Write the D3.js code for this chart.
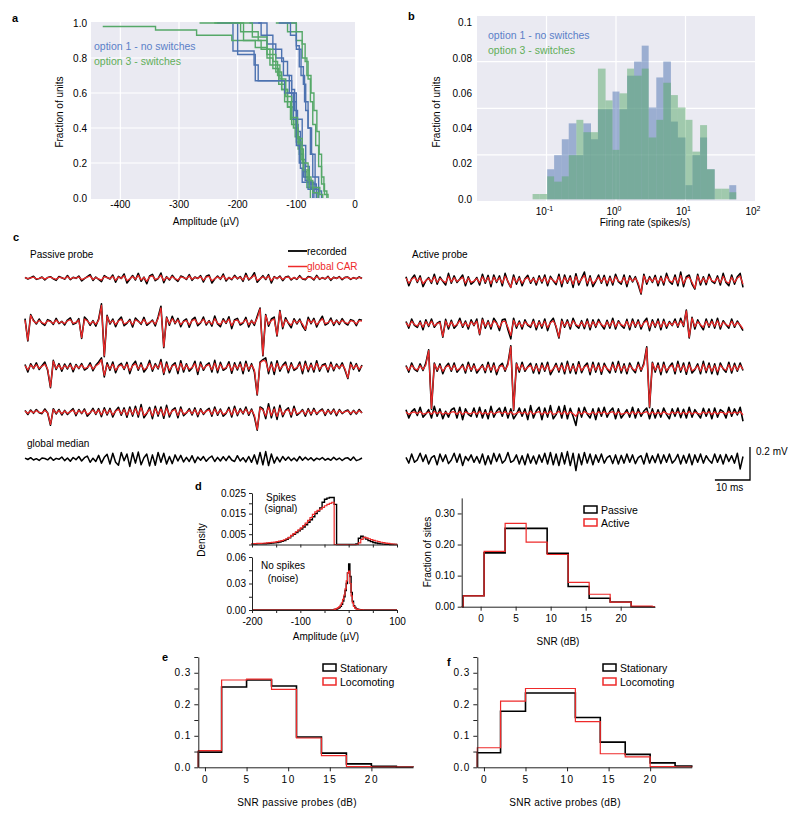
<!DOCTYPE html>
<html>
<head>
<meta charset="utf-8">
<script src="https://cdn.jsdelivr.net/npm/d3@7/dist/d3.min.js"></script>
<style>
  body { margin: 0; background: #fff; }
  svg { font-family: "Liberation Sans", Arial, sans-serif; }
</style>
</head>
<body>
<svg id="fig" width="800" height="817"></svg>
<script>
// ---------- panel a: cumulative amplitude curves [amplitude (uV), fraction] ----------
const ampTicks = [-400, -300, -200, -100, 0];
const fracTicks = [0, 0.2, 0.4, 0.6, 0.8, 1.0];
const blueCurves = [
  [[-215,1],[-208,0.84],[-172,0.76],[-165,0.67],[-108,0.55],[-100,0.42],[-97,0.3],[-93,0.17],[-90,0.09],[-70,0.03],[-62,0]],
  [[-180,1],[-160,0.93],[-140,0.85],[-125,0.78],[-115,0.7],[-108,0.62],[-103,0.5],[-98,0.38],[-93,0.25],[-88,0.12],[-80,0.05],[-72,0]],
  [[-165,1],[-150,0.88],[-135,0.8],[-122,0.7],[-112,0.6],[-100,0.45],[-90,0.3],[-84,0.18],[-78,0.08],[-66,0]],
  [[-110,1],[-100,0.87],[-95,0.75],[-88,0.65],[-84,0.5],[-80,0.4],[-76,0.25],[-72,0.12],[-68,0.05],[-62,0]],
  [[-130,1],[-110,0.93],[-100,0.85],[-92,0.7],[-86,0.55],[-80,0.4],[-74,0.25],[-68,0.12],[-62,0.04],[-57,0]],
  [[-235,1],[-200,0.82],[-170,0.67],[-150,0.67],[-120,0.6],[-105,0.45],[-100,0.3],[-95,0.2],[-85,0.1],[-75,0.05],[-70,0]]
];
const greenCurves = [
  [[-430,0.98],[-340,0.96],[-270,0.93],[-210,0.9],[-170,0.86],[-150,0.8],[-140,0.74],[-130,0.65],[-120,0.55],[-110,0.45],[-102,0.35],[-95,0.25],[-88,0.15],[-82,0.06],[-76,0]],
  [[-265,1],[-195,0.95],[-165,0.9],[-150,0.85],[-140,0.78],[-132,0.7],[-125,0.62],[-115,0.52],[-108,0.42],[-100,0.32],[-92,0.22],[-85,0.12],[-75,0.05],[-65,0]],
  [[-135,1],[-115,0.95],[-100,0.9],[-90,0.8],[-82,0.7],[-75,0.6],[-70,0.5],[-65,0.38],[-61,0.25],[-57,0.12],[-53,0.04],[-48,0]],
  [[-115,1],[-100,0.95],[-90,0.88],[-85,0.78],[-80,0.68],[-76,0.55],[-72,0.42],[-67,0.3],[-62,0.18],[-57,0.08],[-52,0.02],[-46,0]],
  [[-215,1],[-175,0.92],[-150,0.82],[-135,0.72],[-125,0.62],[-115,0.52],[-105,0.4],[-97,0.28],[-88,0.16],[-78,0.06],[-60,0.02],[-55,0]],
  [[-240,1],[-190,0.9],[-160,0.85],[-145,0.76],[-128,0.68],[-118,0.58],[-108,0.46],[-98,0.34],[-90,0.2],[-80,0.1],[-72,0.03],[-63,0]]
];

// ---------- panel b: firing-rate histograms (log10 bin edges) ----------
const rateBinExp = [-1.2,-1.1,-0.99,-0.89,-0.78,-0.68,-0.57,-0.47,-0.36,-0.26,-0.15,-0.05,0.05,0.16,0.26,0.37,0.47,0.58,0.68,0.79,0.89,1.0,1.1,1.21,1.31,1.42,1.52,1.63,1.73];
const rateBlue  = [0,0,0.017,0.025,0.034,0.043,0.025,0.043,0.034,0.051,0.051,0.061,0.051,0.070,0.078,0.087,0.052,0.069,0.078,0.044,0.035,0.008,0.025,0.035,0.017,0,0,0.008];
const rateGreen = [0.003,0.003,0.013,0.010,0.013,0.025,0.045,0.038,0.038,0.074,0.056,0.028,0.060,0.074,0.070,0.074,0.035,0.045,0.066,0.059,0.052,0.045,0.027,0.042,0.017,0.006,0.006,0.004];
const rateTickVals = [0, 0.02, 0.04, 0.06, 0.08, 0.1];
const rateTickLabels = ["0.0", "0.02", "0.04", "0.06", "0.08", "0.1"];
const rateGrid = [0.0251, 0.0515, 0.078];
const rateDecades = [-1, 0, 1, 2];

// ---------- panel c: traces in uV, 120 samples over ~96 ms ----------
const P1k = [4,-6,2,10,-8,-3,6,-12,3,8, -5,-14,9,2,-7,15,-10,4,-2,12, -18,-4,8,20,-15,6,-9,-22,14,3, -6,18,-25,10,-3,24,-30,-8,15,-12,
  28,-20,5,-35,12,22,-16,-4,30,-28, 8,-12,16,-6,-20,12,4,-9,20,-14, 6,-3,14,-24,10,18,-30,-6,12,-8, 24,-18,3,-10,16,-5,9,-20,28,-12,
  4,32,-26,-6,14,-9,20,-30,8,-4, 12,-16,6,10,-12,3,-8,14,-6,-10, 9,4,-12,16,-8,2,-6,10,-14,5, -3,8,-10,4,6,-8,2,-5,7,-3];
const P1r = [2,-4,1,6,-5,-2,4,-7,2,5, -3,-8,5,1,-4,9,-6,2,-1,7, -10,-2,5,12,-9,3,-5,-13,8,2, -4,10,-14,6,-2,14,-17,-5,9,-7,
  16,-12,3,-20,7,13,-9,-2,17,-16, 5,-7,9,-4,-12,7,2,-5,12,-8, 4,-2,8,-14,6,10,-17,-4,7,-5, 14,-10,2,-6,9,-3,5,-12,16,-7,
  2,18,-15,-4,8,-5,12,-17,5,-2, 7,-9,4,6,-7,2,-5,8,-4,-6, 5,2,-7,9,-5,1,-4,6,-8,3, -2,5,-6,2,4,-5,1,-3,4,-2];
const P2k = [20,-115,45,10,-12,18,-8,-20,14,6, -15,22,-10,4,-18,12,25,-14,-6,20, -100,30,12,-20,8,-25,18,110,-210,40, -12,18,-28,10,30,-22,-8,16,-30,24,
  6,-14,28,-20,-5,12,-24,30,95,-155, 30,-20,35,-10,22,-28,6,18,-32,14, 28,-22,-6,30,-18,8,-25,36,-12,-28, 20,-8,32,-40,14,22,-18,-6,28,-30,
  10,-20,35,85,-205,45,-25,18,30,-85, 70,-40,26,-8,-35,20,-12,18,-24,-50, 28,-10,22,-30,6,35,-18,-8,24,-20, 12,-15,20,-6,-18,14,8,-22,15,10];
const P2r = [12,-110,40,5,-7,10,-4,-12,8,3, -9,12,-6,2,-10,7,14,-8,-3,12, -95,18,7,-12,4,-14,10,100,-205,35, -7,10,-16,6,17,-12,-4,9,-17,14,
  3,-8,16,-11,-3,7,-13,20,85,-150, 25,-11,20,-6,12,-16,3,10,-18,8, 16,-12,-3,17,-10,4,-14,20,-7,-16, 11,-4,18,-22,8,12,-10,-3,16,-17,
  6,-11,22,80,-200,40,-15,10,18,-80, 65,-30,15,-4,-20,11,-7,10,-13,-45, 16,-5,12,-17,3,20,-10,-4,13,-11, 7,-8,11,-3,-10,8,4,-12,8,5];
const P3k = [15,-30,20,-10,25,-15,8,30,-20,-125, 40,-15,20,-25,18,-12,22,-28,15,-10, 20,-18,-6,25,-22,10,30,55,-60,25, -20,30,-35,8,22,-15,28,-40,12,35,
  -20,25,-30,-8,40,-25,20,-12,45,-45, 30,-35,10,25,-40,38,-30,20,-25,-6, 35,-45,30,-20,12,25,-30,40,-35,28, -20,-8,32,-38,25,-18,30,-40,35,-25,
  20,-30,-170,30,45,55,-40,30,-45,38, -25,10,30,-35,25,-20,-8,30,-40,35, -28,22,-30,38,-25,12,20,-30,28,-22, 18,-10,25,-20,-70,28,-15,20,-25,12];
const P3r = [8,-18,12,-6,14,-9,4,17,-12,-120, 35,-9,12,-14,10,-7,13,-16,9,-6, 12,-10,-3,14,-13,6,18,45,-50,15, -12,17,-20,4,13,-9,16,-23,7,20,
  -12,14,-17,-4,23,-14,12,-7,30,-35, 18,-20,6,14,-23,22,-17,12,-14,-3, 20,-26,17,-12,7,14,-17,23,-20,16, -12,-4,18,-22,14,-10,17,-23,20,-14,
  12,-17,-165,25,40,35,-25,17,-26,22, -14,6,17,-20,14,-12,-4,17,-23,20, -16,13,-17,22,-14,7,12,-17,16,-13, 10,-6,14,-12,-65,16,-9,12,-14,7];
const P4k = [10,-15,12,-8,15,-4,-10,18,-6,-80, 20,-12,15,-18,10,-15,4,20,-22,15, -10,18,-25,-6,22,-15,20,-28,25,-18, 22,-30,8,28,-20,25,-32,30,-25,35,
  -30,45,-35,-10,28,-40,35,-25,30,-38, 40,-30,12,25,-35,30,-22,-6,20,-18, 25,-28,20,-15,8,22,-25,30,-20,18, -25,-8,28,-30,35,-22,20,-12,30,-20,
  18,-30,-110,30,20,-40,50,-35,30,-45, 40,-28,10,25,-30,35,-20,-6,15,-25, 20,-18,22,-15,6,18,-20,15,-12,18, -22,15,-10,4,12,-15,10,-12,15,-6];
const P4r = [6,-9,7,-5,9,-2,-6,11,-4,-75, 15,-7,9,-11,6,-9,2,12,-13,9, -6,11,-15,-4,13,-9,12,-17,15,-11, 13,-18,5,17,-12,15,-19,18,-15,21,
  -18,27,-21,-6,17,-24,21,-15,18,-23, 24,-18,7,15,-21,18,-13,-4,12,-11, 15,-17,12,-9,5,13,-15,18,-12,11, -15,-5,17,-18,21,-13,12,-7,18,-12,
  11,-18,-105,25,12,-24,30,-21,18,-27, 24,-17,6,15,-18,21,-12,-4,9,-15, 12,-11,13,-9,4,11,-12,9,-7,11, -13,9,-6,2,7,-9,6,-7,9,-4];
const Pmed = [5,-3,8,-6,2,-9,6,3,-5,10, -8,4,-2,12,-10,6,-14,9,-4,15, -12,8,18,-20,5,-15,22,-25,10,28, -30,35,-20,-38,40,-10,30,-45,38,-25,
  42,-35,8,30,-42,25,-38,40,-20,35, -30,15,-28,25,-12,22,-18,10,-15,20, -22,12,-8,15,-14,6,18,-15,10,-12, 14,-10,18,-6,-15,20,-12,8,-18,15,
  -20,25,-30,40,-35,45,-40,30,-25,12, -18,15,-8,12,-10,6,-12,15,-8,10, -6,8,-10,5,-4,9,-7,3,-8,10, -5,6,-9,4,7,-8,12,-10,-4,6];
const A1k = [20,-35,8,30,-15,25,-40,-5,15,-20, 35,-25,18,-8,-30,40,-20,25,-15,6, 30,-35,20,-25,-10,15,-30,35,-20,28, -40,30,-15,25,-35,40,-12,-45,30,-25,
  20,-35,8,28,-20,15,-30,25,-18,30, -35,22,-5,-28,35,-40,30,-20,25,-45, 38,-30,10,48,-35,25,-40,-8,30,-20, 28,-35,22,-30,35,-10,-25,30,-40,25,
  -12,20,-30,-85,35,-25,20,-15,28,-35, 22,-30,40,-8,-25,30,-35,48,-40,20, 30,-25,-55,35,-30,20,-28,35,-8,-20, 25,-30,40,-15,-35,30,-25,20,40,-45];
const A1r = [12,-20,4,17,-9,14,-23,-3,9,-12, 20,-14,10,-4,-17,23,-12,14,-9,3, 17,-20,12,-14,-6,9,-17,20,-12,16, -23,17,-9,14,-20,23,-7,-45,17,-14,
  12,-20,4,16,-12,9,-17,14,-10,17, -20,13,-3,-16,20,-23,17,-12,14,-26, 22,-17,6,28,-20,14,-23,-4,17,-12, 16,-20,13,-17,20,-6,-14,17,-23,14,
  -7,12,-17,-80,25,-14,12,-9,16,-20, 13,-17,23,-4,-14,17,-20,28,-23,12, 17,-14,-50,25,-17,12,-16,20,-4,-12, 14,-17,23,-9,-20,17,-14,12,23,-26];
const A2k = [15,-25,30,-8,-20,18,-35,25,-15,30, -20,5,15,-80,28,-30,22,-25,-6,35, -20,18,-30,25,-10,30,-65,35,-25,20, -30,35,8,-40,25,30,-35,-90,35,-25,
  18,-30,25,-8,-20,28,-35,20,-25,30, -40,12,35,-20,-85,28,-20,25,-30,35, -8,-25,20,-28,30,-35,25,-20,28,-6, -30,22,-25,35,-30,20,-8,-25,28,-35,
  30,-20,25,-30,12,35,-40,25,-20,30, -35,28,-25,15,-10,30,-20,35,-15,85, -85,40,-30,25,-8,-35,30,-20,28,-25, 35,-30,20,-5,-25,30,-20,18,-10,-40];
const A2r = [9,-14,17,-4,-12,10,-20,14,-9,17, -12,3,9,-75,18,-17,13,-14,-3,20, -12,10,-17,14,-6,17,-60,25,-14,12, -17,20,4,-23,14,17,-20,-70,22,-14,
  10,-17,14,-4,-12,16,-20,12,-14,17, -23,7,20,-12,-80,18,-12,14,-17,20, -4,-14,12,-16,17,-20,14,-12,16,-3, -17,13,-14,20,-17,12,-4,-14,16,-20,
  17,-12,14,-17,7,20,-23,14,-12,17, -20,16,-14,9,-6,17,-12,20,-9,80, -80,35,-17,14,-4,-20,17,-12,16,-14, 20,-17,12,-3,-14,17,-12,10,-6,-30];
const A3k = [15,-25,30,-8,-20,25,-15,30,110,-250, 30,-20,25,-35,8,28,-20,30,-25,-5, 22,-30,35,-20,25,-30,-6,20,-28,35, -25,30,-40,12,28,-20,30,135,-258,30,
  -25,35,-20,8,28,-30,25,-35,30,-20, 35,-40,-8,28,-25,30,-35,40,-30,25, -35,38,-28,10,30,-40,35,-25,30,-38, 28,-6,-30,35,-25,40,-30,25,-35,30,
  -8,-28,35,-20,30,128,-240,35,-25,30, -40,35,-28,8,30,-35,40,-25,30,-38, 35,-30,-10,25,-35,40,-28,30,-35,25, -40,30,-6,-25,35,-30,28,-20,30,-15];
const A3r = [9,-14,17,-4,-12,14,-9,17,105,-245, 25,-12,14,-20,4,16,-12,17,-14,-3, 12,-17,20,-12,14,-17,-3,12,-16,20, -14,17,-23,7,16,-12,17,130,-252,25,
  -14,20,-12,4,16,-17,14,-20,17,-12, 20,-23,-4,16,-14,17,-20,23,-17,14, -20,22,-16,6,17,-23,20,-14,17,-22, 16,-3,-17,20,-14,23,-17,14,-20,17,
  -4,-16,20,-12,17,122,-235,30,-14,17, -23,20,-16,4,17,-20,23,-14,17,-22, 20,-17,-6,14,-20,23,-16,17,-20,14, -23,17,-3,-14,20,-17,16,-12,17,-8];
const A4k = [20,-30,8,25,-15,35,-25,-6,20,-30, 40,-20,25,-35,10,-25,20,30,-30,35, -40,25,-8,-20,30,-25,35,-30,20,-35, 40,-25,10,30,-20,35,-30,25,-35,-8,
  30,-20,25,-40,45,-30,12,35,-40,30, -25,45,-35,-10,40,-30,45,-35,28,-20, -75,30,-25,35,-8,-30,25,-40,30,-20, 35,-25,10,30,-35,25,-30,-6,20,-25,
  35,-30,25,-20,12,30,-35,25,-30,20, -25,30,-8,-35,25,-20,30,-28,22,-30, 35,-25,20,-6,-30,28,-20,25,-35,30, -25,20,8,-30,35,-20,25,-12,35,-50];
const A4r = [6,-8,2,7,-4,9,-7,-2,6,-8, 10,-5,7,-9,3,-7,5,8,-8,9, -10,7,-2,-5,8,-7,9,-8,5,-9, 10,-7,3,8,-5,9,-8,7,-9,-2,
  8,-5,7,-10,11,-8,3,9,-10,8, -7,11,-9,-3,10,-8,11,-9,7,-5, -20,8,-7,9,-2,-8,7,-10,8,-5, 9,-7,3,8,-9,7,-8,-2,5,-7,
  9,-8,7,-5,3,8,-9,7,-8,5, -7,8,-2,-9,7,-5,8,-7,6,-8, 9,-7,5,-2,-8,7,-5,7,-9,8, -7,5,2,-8,9,-5,7,-3,9,-12];
const Amed = [10,-25,30,-20,-5,35,-15,25,-30,8, 20,-35,30,-15,25,-28,-6,35,-20,30, -40,15,-10,25,-20,15,-25,30,-35,20, -30,35,-15,30,-25,-8,40,-20,-10,25,
  -30,20,-35,30,-25,18,-30,25,-20,35, -30,40,-35,30,-40,38,-30,45,-40,35, -70,30,-35,40,-25,30,-35,25,-20,30, -25,8,20,-28,25,-30,22,-25,30,-20,
  25,-28,8,20,-30,35,-25,20,-22,30, -28,25,-20,30,-25,-6,28,-30,22,-25, 30,-35,25,-20,30,-25,20,-8,-25,30, -20,25,-30,28,-15,20,-25,35,-60,15];

// ---------- panel d: amplitude densities ----------
const spikeEdges = d3.range(-200, 101, 5);
const spikePassive = [.0002,.0002,.0003,.0003,.0004,.0004,.0005,.0006,.0007,.0008,.0010,.0012,.0015,.0019,.0025,.0033,.0042,.0050,.0058,.0066,
  .0075,.0085,.0096,.0108,.0120,.0135,.0150,.0162,.0178,.0205,.0220,.0225,.0228,.0228,.0195,0,0,0,0,0,
  0,0,0,.0003,.0030,.0040,.0034,.0026,.0019,.0014,.0010,.0007,.0005,.0003,.0002,.0001,.0001,0,0,0];
const spikeActive = [.0004,.0004,.0005,.0005,.0006,.0007,.0008,.0009,.0010,.0012,.0014,.0016,.0019,.0023,.0028,.0035,.0044,.0053,.0062,.0071,
  .0081,.0092,.0104,.0117,.0131,.0146,.0158,.0166,.0172,.0180,.0188,.0195,.0200,.0205,0,0,0,0,0,0,
  0,0,0,0,.0008,.0025,.0035,.0032,.0028,.0024,.0020,.0017,.0014,.0011,.0009,.0007,.0005,.0003,.0002,.0001];
const noiseEdges = d3.range(-30, 31, 2.5);
const noisePassive = [.0005,.0008,.0012,.0018,.0028,.0042,.0065,.0100,.0150,.0220,.0300,.0420,.0520,.0380,.0200,.0100,.0050,.0028,.0016,.0010,.0006,.0004,.0002,.0001];
const noiseActive = [.0008,.0012,.0018,.0026,.0038,.0055,.0080,.0120,.0170,.0240,.0330,.0420,.0440,.0300,.0160,.0080,.0040,.0022,.0013,.0008,.0005,.0003,.0002,.0001];
const snrEdges = [-2.5, 0.5, 3.5, 6.5, 9.5, 12.5, 15.5, 18.5, 21.5, 24.5];
const snrPassive = [0.035, 0.173, 0.252, 0.252, 0.172, 0.065, 0.027, 0.015, 0.0];
const snrActive = [0.035, 0.178, 0.268, 0.208, 0.168, 0.078, 0.040, 0.015, 0.002];

// ---------- panels e, f: SNR by behaviour ----------
const behEdges = [-1, 2, 5, 8, 11, 14, 17, 20, 23, 26];
const ePassiveStat = [0.048, 0.255, 0.277, 0.258, 0.096, 0.045, 0.011, 0.003, 0.001];
const ePassiveLoco = [0.053, 0.277, 0.280, 0.247, 0.093, 0.037, 0.002, 0.001, 0.001];
const fActiveStat = [0.046, 0.178, 0.236, 0.236, 0.158, 0.080, 0.041, 0.014, 0.004];
const fActiveLoco = [0.062, 0.210, 0.250, 0.250, 0.145, 0.043, 0.033, 0.002, 0.001];
const snrTicks = [0, 5, 10, 15, 20];

const FONT = '"Liberation Sans", Arial, sans-serif';
const BG = "#eaeaf2", BLUE = "#4c72b0", GREEN = "#55a868", RED = "#ee2a2a";
const svg = d3.select("#fig");

function txt(g, x, y, s, o = {}) {
  const t = g.append("text").attr("x", x).attr("y", y).text(s)
    .attr("font-size", o.size || 10).attr("fill", o.fill || "#000");
  if (o.anchor) t.attr("text-anchor", o.anchor);
  if (o.bold) t.attr("font-weight", "bold");
  if (o.rotate) t.attr("transform", `rotate(-90,${x},${y})`);
  if (o.ls) t.attr("letter-spacing", o.ls);
  return t;
}

// ================= panel a =================
const ga = svg.append("g");
const ax = d3.scaleLinear().domain([-450, 0]).range([91, 355]);
const ay = d3.scaleLinear().domain([0, 1]).range([198, 23]);
ga.append("rect").attr("x", ax(-450)).attr("y", 22).attr("width", ax(0) - ax(-450)).attr("height", 177).attr("fill", BG);
ga.selectAll(null).data(ampTicks.slice(0, 4)).enter().append("line")
  .attr("x1", d => ax(d)).attr("x2", d => ax(d)).attr("y1", 22).attr("y2", 199)
  .attr("stroke", "#fff").attr("stroke-width", 1.2);
ga.selectAll(null).data(fracTicks.slice(1, 5)).enter().append("line")
  .attr("x1", ax(-450)).attr("x2", ax(0)).attr("y1", d => ay(d)).attr("y2", d => ay(d))
  .attr("stroke", "#fff").attr("stroke-width", 1.2);
ampTicks.forEach(d => txt(ga, ax(d), 208, String(d), { anchor: "middle" }));
fracTicks.forEach(d => txt(ga, 87, ay(d) + 3.5, d3.format(".1f")(d), { anchor: "end" }));
txt(ga, 206, 225, "Amplitude (µV)", { anchor: "middle" });
txt(ga, 63, 112, "Fraction of units", { anchor: "middle", rotate: true });
const cdfLine = d3.line().x(d => ax(d[0])).y(d => ay(d[1])).curve(d3.curveStepAfter);
blueCurves.forEach((c, i) => {
  ga.append("path").attr("d", cdfLine(c)).attr("fill", "none").attr("stroke", BLUE).attr("stroke-width", 1.4);
  ga.append("path").attr("d", cdfLine(greenCurves[i])).attr("fill", "none").attr("stroke", GREEN).attr("stroke-width", 1.4);
});
txt(ga, 94, 50, "option 1 - no switches", { fill: "#5b80c8", size: 10.5 });
txt(ga, 94, 65, "option 3 - switches", { fill: "#62ae5a", size: 10.5 });
txt(ga, 12, 22, "a", { bold: true, size: 11 });

// ================= panel b =================
const gb = svg.append("g");
const bx = d3.scaleLog().domain([0.01, 100]).range([477, 755]);
const by = d3.scaleLinear().domain([0, 0.1]).range([199.3, 22.7]);
gb.append("rect").attr("x", 477).attr("y", 16).attr("width", 278).attr("height", 185).attr("fill", BG);
gb.selectAll(null).data(rateDecades.slice(0, 3)).enter().append("line")
  .attr("x1", d => bx(Math.pow(10, d))).attr("x2", d => bx(Math.pow(10, d))).attr("y1", 16).attr("y2", 201)
  .attr("stroke", "#fff").attr("stroke-width", 1.2);
gb.selectAll(null).data(rateGrid).enter().append("line")
  .attr("x1", 477).attr("x2", 755).attr("y1", d => by(d)).attr("y2", d => by(d))
  .attr("stroke", "#fff").attr("stroke-width", 1.2);
function rateBars(vals, color, op) {
  gb.selectAll(null).data(vals).enter().append("rect")
    .attr("x", (d, i) => bx(Math.pow(10, rateBinExp[i])))
    .attr("width", (d, i) => bx(Math.pow(10, rateBinExp[i + 1])) - bx(Math.pow(10, rateBinExp[i])))
    .attr("y", d => by(d)).attr("height", d => by(0) - by(d))
    .attr("fill", color).attr("fill-opacity", op);
}
rateBars(rateBlue, BLUE, 0.5);
rateBars(rateGreen, GREEN, 0.5);
rateTickVals.forEach((d, i) => txt(gb, 472, by(d) + 3.5, rateTickLabels[i], { anchor: "end" }));
rateDecades.forEach(d => {
  const t = txt(gb, bx(Math.pow(10, d)) - 2, 215, "10", { anchor: "middle" });
  t.append("tspan").attr("dy", -4).attr("font-size", 7).text(String(d));
});
txt(gb, 645, 226, "Firing rate (spikes/s)", { anchor: "middle" });
txt(gb, 440, 112, "Fraction of units", { anchor: "middle", rotate: true });
txt(gb, 488, 39, "option 1 - no switches", { fill: "#5b80c8", size: 10.5 });
txt(gb, 488, 54, "option 3 - switches", { fill: "#62ae5a", size: 10.5 });
txt(gb, 408, 20, "b", { bold: true, size: 11 });

// ================= panel c =================
const gc = svg.append("g");
const msScale = d3.scaleLinear().domain([0, 96]).range([0, 337]);
const vScale = d3.scaleLinear().domain([0, 200]).range([0, -33]);
function drawTrace(x0, y0, data, color, w) {
  const tx = d3.scaleLinear().domain([0, data.length - 1]).range([0, 96]);
  const line = d3.line().x((d, i) => msScale(tx(i))).y(d => vScale(d));
  gc.append("path").attr("transform", `translate(${x0},${y0})`).attr("d", line(data))
    .attr("fill", "none").attr("stroke", color).attr("stroke-width", w).attr("stroke-linejoin", "round");
}
const passiveRows = [[P1k, P1r, 278], [P2k, P2r, 322], [P3k, P3r, 367], [P4k, P4r, 412]];
const activeRows = [[A1k, A1r, 280], [A2k, A2r, 324], [A3k, A3r, 368], [A4k, A4r, 413]];
passiveRows.forEach(r => { drawTrace(25, r[2], r[0], "#000", 1.6); drawTrace(25, r[2], r[1], RED, 1.3); });
activeRows.forEach(r => { drawTrace(406, r[2], r[0], "#000", 1.6); drawTrace(406, r[2], r[1], RED, 1.3); });
drawTrace(25, 459, Pmed, "#000", 1.5);
drawTrace(406, 459, Amed, "#000", 1.5);
txt(gc, 13, 241, "c", { bold: true, size: 11 });
txt(gc, 30, 258, "Passive probe");
txt(gc, 412, 258, "Active probe");
txt(gc, 27, 447, "global median");
gc.append("line").attr("x1", 288).attr("x2", 307).attr("y1", 251).attr("y2", 251).attr("stroke", "#000").attr("stroke-width", 1.8);
gc.append("line").attr("x1", 288).attr("x2", 307).attr("y1", 266.5).attr("y2", 266.5).attr("stroke", RED).attr("stroke-width", 1.5);
txt(gc, 307, 254.5, "recorded");
txt(gc, 307, 270, "global CAR", { fill: RED });
const sbX = 750, sbY = 480;
gc.append("path").attr("d", `M${sbX},${sbY + vScale(200)}V${sbY}H${sbX - msScale(10)}`)
  .attr("fill", "none").attr("stroke", "#000").attr("stroke-width", 1.3);
txt(gc, 756, 455, "0.2 mV");
txt(gc, 716, 491, "10 ms");

// ================= shared helpers for step histograms =================
function stepPts(edges, vals, lo, hi) {
  const c = e => Math.max(lo, Math.min(hi, e));
  const pts = [[lo, 0], [c(edges[0]), 0]];
  vals.forEach((v, i) => { pts.push([c(edges[i]), v]); pts.push([c(edges[i + 1]), v]); });
  pts.push([c(edges[vals.length]), 0]);
  pts.push([hi, 0]);
  return pts;
}
function drawStep(g, x, y, pts, color, w) {
  g.append("path").attr("d", d3.line().x(d => x(d[0])).y(d => y(d[1]))(pts))
    .attr("fill", "none").attr("stroke", color).attr("stroke-width", w).attr("stroke-linejoin", "miter");
}
function styleAxis(a, ls) {
  a.attr("font-family", FONT).attr("font-size", 10);
  a.selectAll("text").attr("fill", "#000");
  if (ls) a.selectAll("text").attr("letter-spacing", ls);
  a.selectAll("line, path").attr("stroke", "#222");
}
function legendBox(g, x, y, label, color) {
  g.append("rect").attr("x", x).attr("y", y - 4).attr("width", 13).attr("height", 7)
    .attr("fill", "none").attr("stroke", color).attr("stroke-width", 1.5);
  txt(g, x + 17, y + 4, label, { size: 10.5 });
}

// ================= panel d (left): densities =================
const gd = svg.append("g");
const dx = d3.scaleLinear().domain([-200, 100]).range([252, 397]);
const dTopY = d3.scaleLinear().domain([0, 0.025]).range([544.5, 493]);
const dBotY = d3.scaleLinear().domain([0, 0.06]).range([610, 557]);
drawStep(gd, dx, dTopY, stepPts(spikeEdges, spikePassive, -200, 100), "#000", 1.4);
drawStep(gd, dx, dTopY, stepPts(spikeEdges, spikeActive, -200, 100), RED, 1.2);
drawStep(gd, dx, dBotY, stepPts(noiseEdges, noisePassive, -200, 100), "#000", 1.4);
drawStep(gd, dx, dBotY, stepPts(noiseEdges, noiseActive, -200, 100), RED, 1.2);
const ampTicks50 = d3.range(-200, 101, 50);
styleAxis(gd.append("g").attr("transform", "translate(252,0)")
  .call(d3.axisLeft(dTopY).tickValues([0, 0.005, 0.01, 0.015, 0.02, 0.025]).tickSize(3).tickSizeOuter(0)
    .tickFormat(d => [0.005, 0.015, 0.025].includes(d) ? d3.format(".3f")(d) : "")));
styleAxis(gd.append("g").attr("transform", `translate(0,${dTopY(0)})`)
  .call(d3.axisBottom(dx).tickValues(ampTicks50).tickSize(3).tickSizeOuter(0).tickFormat("")));
styleAxis(gd.append("g").attr("transform", "translate(252,0)")
  .call(d3.axisLeft(dBotY).tickValues([0, 0.015, 0.03, 0.045, 0.06]).tickSize(3).tickSizeOuter(0)
    .tickFormat(d => [0, 0.03, 0.06].includes(d) ? d3.format(".2f")(d) : "")));
styleAxis(gd.append("g").attr("transform", `translate(0,${dBotY(0)})`)
  .call(d3.axisBottom(dx).tickValues(ampTicks50).tickSize(3).tickSizeOuter(0).tickPadding(5)
    .tickFormat(d => d % 100 === 0 ? String(d) : "")));
txt(gd, 195, 490, "d", { bold: true, size: 11 });
txt(gd, 281, 501, "Spikes", { anchor: "middle" });
txt(gd, 281, 512, "(signal)", { anchor: "middle" });
txt(gd, 283, 569, "No spikes", { anchor: "middle" });
txt(gd, 283, 582, "(noise)", { anchor: "middle" });
txt(gd, 205, 540, "Density", { anchor: "middle", rotate: true });
txt(gd, 326, 640, "Amplitude (µV)", { anchor: "middle" });

// ================= panel d (right): SNR sites =================
const gs = svg.append("g");
const sx = d3.scaleLinear().domain([-2.7, 24.9]).range([461.7, 655]);
const sy = d3.scaleLinear().domain([0, 0.35]).range([606.7, 497.9]);
drawStep(gs, sx, sy, stepPts(snrEdges, snrPassive, -2.7, 24.9), "#000", 1.6);
drawStep(gs, sx, sy, stepPts(snrEdges, snrActive, -2.7, 24.9), RED, 1.2);
styleAxis(gs.append("g").attr("transform", `translate(${sx(-2.7)},0)`)
  .call(d3.axisLeft(sy).tickValues([0, 0.1, 0.2, 0.3]).tickSize(4).tickSizeOuter(0)));
styleAxis(gs.append("g").attr("transform", `translate(0,${sy(0)})`)
  .call(d3.axisBottom(sx).tickValues(snrTicks).tickSize(4).tickSizeOuter(0).tickPadding(4)));
legendBox(gs, 584, 510, "Passive", "#000");
legendBox(gs, 584, 523, "Active", RED);
txt(gs, 431, 552, "Fraction of sites", { anchor: "middle", rotate: true });
txt(gs, 558, 645, "SNR (dB)", { anchor: "middle" });

// ================= panels e, f =================
function behaviourPanel(x0, x1, statVals, locoVals, label, title, titleX, legendX, letterX, letterY) {
  const g = svg.append("g");
  const x = d3.scaleLinear().domain([-0.8, 25]).range([x0, x1]);
  const y = d3.scaleLinear().domain([0, 0.35]).range([767.3, 657]);
  drawStep(g, x, y, stepPts(behEdges, statVals, -0.8, 25), "#000", 1.6);
  drawStep(g, x, y, stepPts(behEdges, locoVals, -0.8, 25), RED, 1.2);
  styleAxis(g.append("g").attr("transform", `translate(${x0},0)`)
    .call(d3.axisLeft(y).tickValues(d3.range(0, 0.36, 0.05)).tickSize(4).tickSizeOuter(0)
      .tickFormat(d => Math.round(d * 100) % 10 === 0 ? d3.format(".1f")(d) : "")), 1);
  styleAxis(g.append("g").attr("transform", `translate(0,${y(0)})`)
    .call(d3.axisBottom(x).tickValues(snrTicks).tickSize(4).tickSizeOuter(0).tickPadding(5)), 1.5);
  legendBox(g, legendX, 668, "Stationary", "#000");
  legendBox(g, legendX, 682, "Locomoting", RED);
  txt(g, titleX, 806, title, { anchor: "middle", ls: 0.3 });
  txt(g, letterX, letterY, label, { bold: true, size: 11 });
}
behaviourPanel(198.3, 413, ePassiveStat, ePassiveLoco, "e", "SNR passive probes (dB)", 297, 323, 162, 661);
behaviourPanel(477.3, 691.7, fActiveStat, fActiveLoco, "f", "SNR active probes (dB)", 565, 603, 447, 666);
</script>
</body>
</html>
